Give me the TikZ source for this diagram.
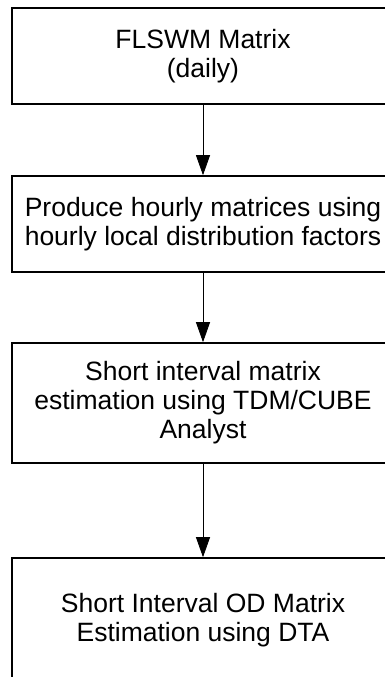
\documentclass[tikz,border=0pt]{standalone}
\usepackage{fontspec}
\setmainfont{Liberation Sans}
\usetikzlibrary{positioning,arrows.meta}

\begin{document}
\begin{tikzpicture}[x=1pt, y=1pt,
		stepbox/.style={draw, rectangle, line width=1.6pt, minimum width=382pt, align=center, font=\fontsize{26.5}{29}\selectfont},
		flow/.style={-{Triangle[length=20pt, width=14pt]}, line width=0.8pt}]
				\useasboundingbox (-203,56) rectangle (182,-621);
				\node[stepbox, minimum height=96pt] (daily) {FLSWM Matrix\\(daily)};
				\node[stepbox, minimum height=96pt, node distance=168pt, below of=daily] (hourly) {Produce hourly matrices using\\hourly local distribution factors};
				\node[stepbox, minimum height=120pt, node distance=179pt, below of=hourly] (tdm) {Short interval matrix\\estimation using TDM/CUBE\\Analyst};
				\node[stepbox, minimum height=124pt, node distance=217pt, below of=tdm] (dta) {Short Interval OD Matrix\\Estimation using DTA};
				
				\draw[flow] (daily) -- (hourly);
				\draw[flow] (hourly) -- (tdm);
				\draw[flow] (tdm) -- (dta);
			\end{tikzpicture}
\end{document}
